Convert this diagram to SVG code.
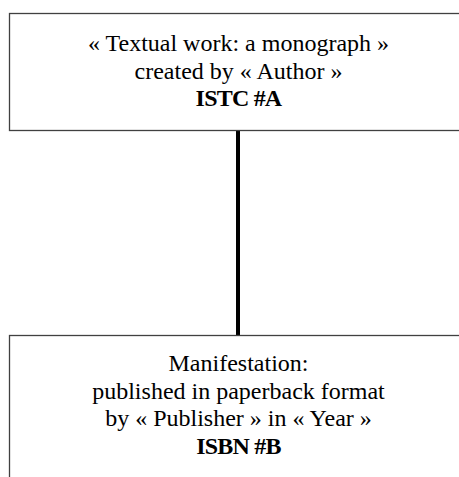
<svg xmlns="http://www.w3.org/2000/svg" width="459" height="477" viewBox="0 0 459 477">
  <style>
    .box { fill: #ffffff; stroke: #404040; stroke-width: 1.3; }
    .t { font-family: "Liberation Serif", "Times New Roman", serif; font-size: 24px; fill: #000; text-anchor: middle; }
    .b { font-weight: bold; letter-spacing: -0.8px; }
    .link { stroke: #000; stroke-width: 4; fill: none; }
  </style>
  <rect width="459" height="477" fill="#ffffff"/>
  <g id="connectors">
    <line class="link" x1="238" y1="131" x2="238" y2="335"/>
  </g>
  <g id="work">
    <rect class="box" x="9.5" y="13.5" width="460" height="117"/>
    <text class="t" x="238.5" y="51">« Textual work: a monograph »</text>
    <text class="t" x="238.5" y="78.5">created by « Author »</text>
    <text class="t b" x="238.5" y="106">ISTC #A</text>
  </g>
  <g id="manifestation">
    <rect class="box" x="9.5" y="335.5" width="460" height="160"/>
    <text class="t" x="238.5" y="371">Manifestation:</text>
    <text class="t" x="238.5" y="398.5">published in paperback format</text>
    <text class="t" x="238.5" y="426">by « Publisher » in « Year »</text>
    <text class="t b" x="238.5" y="453.5">ISBN #B</text>
  </g>
</svg>
